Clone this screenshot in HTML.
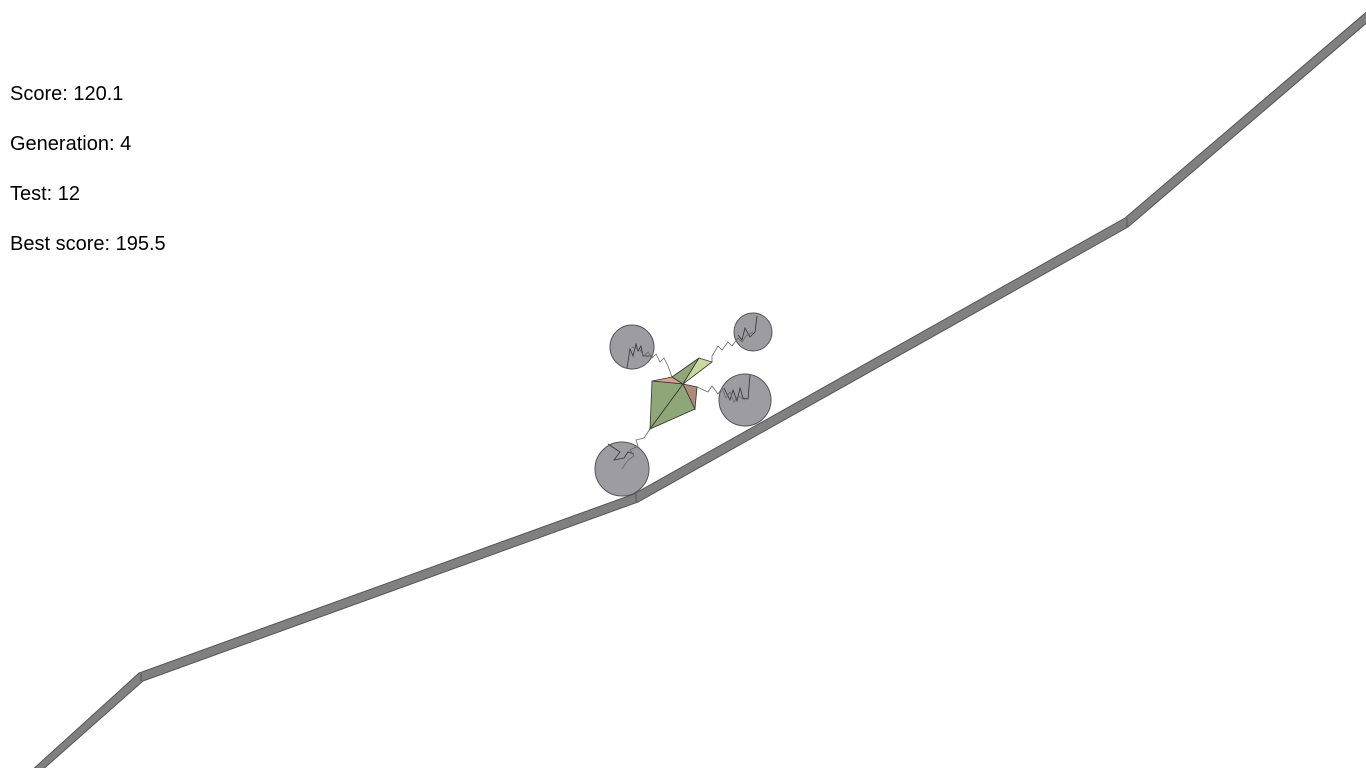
<!DOCTYPE html>
<html><head><meta charset="utf-8"><style>
html,body{margin:0;padding:0;background:#fff;width:1366px;height:768px;overflow:hidden}
.t{position:absolute;left:10px;font:20px "Liberation Sans",sans-serif;color:#000}
</style></head><body>
<div class="t" style="top:83px">Score: 120.1</div>
<div class="t" style="top:133px">Generation: 4</div>
<div class="t" style="top:183px">Test: 12</div>
<div class="t" style="top:233px">Best score: 195.5</div>
<svg width="1366" height="768" style="position:absolute;left:0;top:0">
<g stroke="#555" stroke-width="1">
<polygon points="30,772 139,673 634,494 1125,218 1370,9 1370,20 1128,227 638,502 143,681 40,772" fill="#808080"/>
<line x1="141" y1="673" x2="141" y2="681"/><line x1="636" y1="494" x2="636" y2="502"/><line x1="1127" y1="218" x2="1127" y2="227"/>
</g>
<g fill="#9d9ca3" stroke="#555" stroke-width="1">
<circle cx="632" cy="347" r="22"/><circle cx="753" cy="332" r="19"/><circle cx="745" cy="400" r="26"/><circle cx="622" cy="469" r="27"/>
</g>
<g stroke="#333" stroke-width="0.8" fill="none">
<polyline points="627,368 630,349 633,356 636,344 638,351 641,346 643,356 652,356"/>
<polyline points="757,316 755,332 750,337 745,328 742,340 738,335"/>
<polyline points="750,375 748,399 743,398 740,388 737,401 733,390 730,400 724,388"/>
<polyline points="608,444 620,452 614,460 624,458 628,452 634,454"/>
</g>
<g stroke="#666" stroke-width="0.8" fill="none">
<polyline points="632,347 640,350 644,356 648,352 652,358 656,354 660,362 664,358 668,366 672,377"/>
<polyline points="753,332 746,336 742,342 738,338 732,346 728,342 722,350 718,346 712,356 712,362"/>
<polyline points="745,400 738,396 734,402 730,392 726,398 722,388 718,394 712,386 708,392 697,387"/>
<polyline points="622,469 628,460 634,456 630,450 638,446 636,440 644,438 650,429"/>
</g>
<g stroke="#333" stroke-width="0.8">
<polygon points="652,381 672,377 683,384" fill="#d9a08f"/>
<polygon points="652,381 683,384 650,429" fill="#8fa679"/>
<polygon points="650,429 683,384 695,409" fill="#8fa679"/>
<polygon points="683,384 697,387 695,409" fill="#b08a78"/>
<polygon points="672,377 699,358 683,384" fill="#8fa679"/>
<polygon points="699,358 712,362 683,384" fill="#c8d9a0"/>
</g>
</svg>
</body></html>
